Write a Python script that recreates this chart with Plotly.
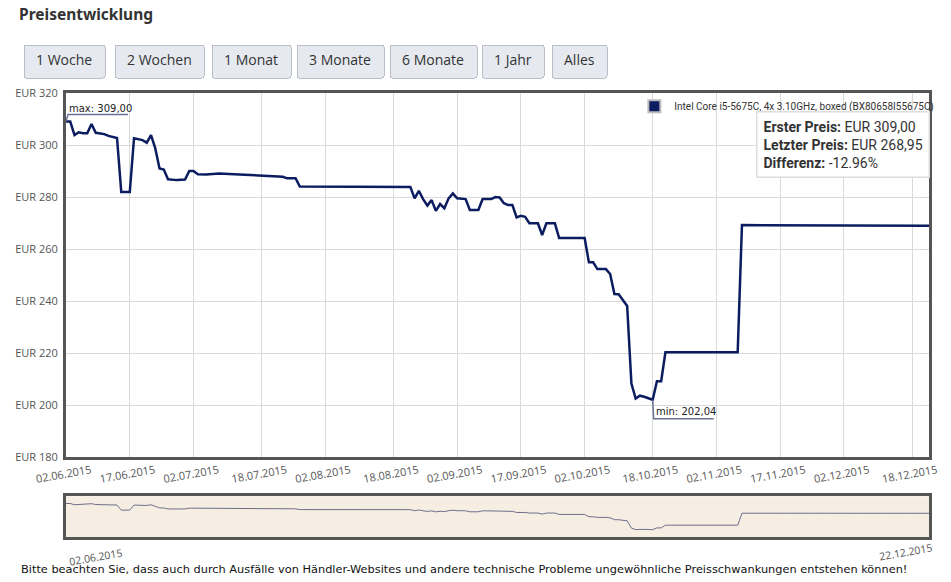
import pandas as pd
import plotly.graph_objects as go

# Preisverlauf
dates = [
    "2015-06-02", "2015-06-03", "2015-06-04", "2015-06-05", "2015-06-06", "2015-06-07",
    "2015-06-08", "2015-06-09", "2015-06-11", "2015-06-12", "2015-06-14", "2015-06-15",
    "2015-06-17", "2015-06-18", "2015-06-20", "2015-06-21", "2015-06-22", "2015-06-23",
    "2015-06-24", "2015-06-25", "2015-06-26", "2015-06-28", "2015-06-30", "2015-07-01",
    "2015-07-02", "2015-07-03", "2015-07-05", "2015-07-08", "2015-07-14", "2015-07-22",
    "2015-07-23", "2015-07-24", "2015-07-26", "2015-07-27", "2015-08-22", "2015-08-23",
    "2015-08-24", "2015-08-25", "2015-08-26", "2015-08-27", "2015-08-28", "2015-08-29",
    "2015-08-30", "2015-08-31", "2015-09-01", "2015-09-02", "2015-09-04", "2015-09-05",
    "2015-09-07", "2015-09-08", "2015-09-10", "2015-09-11", "2015-09-12", "2015-09-13",
    "2015-09-14", "2015-09-15", "2015-09-16", "2015-09-17", "2015-09-18", "2015-09-19",
    "2015-09-21", "2015-09-22", "2015-09-23", "2015-09-25", "2015-09-26", "2015-10-02",
    "2015-10-03", "2015-10-04", "2015-10-05", "2015-10-07", "2015-10-08", "2015-10-09",
    "2015-10-10", "2015-10-12", "2015-10-13", "2015-10-14", "2015-10-15", "2015-10-16",
    "2015-10-18", "2015-10-19", "2015-10-20", "2015-10-21", "2015-11-07", "2015-11-08",
    "2015-12-22",
]
prices = [
    309.00, 309.00, 303.8, 304.9, 304.5, 304.5,
    308.1, 304.7, 304.2, 303.5, 302.7, 281.9,
    281.9, 302.6, 301.9, 300.9, 303.8, 298.7,
    291.0, 290.6, 286.8, 286.5, 286.7, 290.0,
    290.0, 288.8, 288.7, 289.0, 288.6, 288.1,
    287.8, 287.2, 287.2, 284.0, 283.9, 279.5,
    282.4, 279.2, 276.7, 278.8, 274.7, 277.3,
    275.7, 279.5, 281.4, 279.5, 279.2, 275.0,
    275.0, 279.2, 279.2, 280.0, 279.8, 277.6,
    276.9, 276.9, 272.2, 272.8, 272.4, 269.9,
    269.9, 265.4, 269.9, 269.9, 264.2, 264.2,
    254.9, 254.9, 252.3, 252.3, 250.4, 242.7,
    242.6, 238.1, 208.3, 202.5, 203.6, 203.2,
    202.04, 209.2, 209.2, 220.3, 220.3, 269.2,
    268.95,
]

product = "Intel Core i5-5675C, 4x 3.10GHz, boxed (BX80658I55675C)"
x_ticks = ["2015-06-02", "2015-06-17", "2015-07-02", "2015-07-18", "2015-08-02",
           "2015-08-18", "2015-09-02", "2015-09-17", "2015-10-02", "2015-10-18",
           "2015-11-02", "2015-11-17", "2015-12-02", "2015-12-18"]
y_ticks = [180, 200, 220, 240, 260, 280, 300, 320]
zoom_labels = ["1 Woche", "2 Wochen", "1 Monat", "3 Monate", "6 Monate", "1 Jahr", "Alles"]
zoom_spans = [pd.DateOffset(days=7), pd.DateOffset(days=14), pd.DateOffset(months=1),
              pd.DateOffset(months=3), pd.DateOffset(months=6), pd.DateOffset(years=1), None]
button_left_px = [23, 114, 213, 298, 392, 485, 556]


def de_num(v):
    return f"{v:,.2f}".replace(",", "X").replace(".", ",").replace("X", ".")


def de_date(d):
    y, m, t = d.split("-")
    return f"{t}.{m}.{y}"


navy = "#0c1c60"
grid = "#d9d9d9"
axis_grey = "#555555"

first, last = prices[0], prices[-1]
diff = (last - first) / first * 100
i_max = prices.index(max(prices))
i_min = prices.index(min(prices))
rng = [dates[0], dates[-1]]

fig = go.Figure()
fig.add_trace(go.Scatter(x=dates, y=prices, mode="lines", line=dict(color=navy, width=2.5),
                         showlegend=False, xaxis="x", yaxis="y"))
# legend entry as a square
fig.add_trace(go.Scatter(x=[None], y=[None], mode="markers", name=product,
                         marker=dict(symbol="square", size=13, color=navy,
                                     line=dict(color="#bbbbbb", width=1)),
                         xaxis="x", yaxis="y"))
# navigator
fig.add_trace(go.Scatter(x=dates, y=prices, mode="lines", line=dict(color="#6e6e8c", width=1),
                         showlegend=False, xaxis="x2", yaxis="y2", hoverinfo="skip"))

# zoom buttons, one menu each so they can be spaced like the original
end = pd.Timestamp(dates[-1])
menus = []
for lab, span, px in zip(zoom_labels, zoom_spans, button_left_px):
    start = rng[0] if span is None else max(pd.Timestamp(dates[0]), end - span).strftime("%Y-%m-%d")
    menus.append(dict(
        type="buttons", showactive=False, direction="right",
        x=(px - 66) / 872, xanchor="left", y=1.036, yanchor="bottom", pad=dict(t=0, b=0, l=0, r=0),
        bgcolor="#e6eaf0", bordercolor="#b9bec7", borderwidth=1,
        font=dict(family="Open Sans, sans-serif", size=14, color="#333333"),
        buttons=[dict(label=lab, method="relayout",
                      args=[{"xaxis.range": [start, dates[-1]]}])],
    ))

fig.update_layout(
    width=951, height=582,
    margin=dict(l=66, r=13, t=93, b=45),
    paper_bgcolor="white", plot_bgcolor="white",
    font=dict(family="Noto Sans, Open Sans, sans-serif", size=11, color="#333333"),
    updatemenus=menus,
    xaxis=dict(
        domain=[0, 1], anchor="y", type="date", range=rng,
        tickvals=x_ticks, ticktext=[de_date(d) for d in x_ticks],
        tickangle=-10, ticklabelshift=25, ticklabelstandoff=0,
        tickfont=dict(family="Open Sans, sans-serif", size=11, color=axis_grey),
        showgrid=True, gridcolor=grid, gridwidth=1,
        showline=True, linecolor=axis_grey, linewidth=3, mirror=True, ticks="",
    ),
    yaxis=dict(
        domain=[0.18, 1], anchor="x", range=[180, 320],
        tickvals=y_ticks, ticktext=[f"EUR {v}" for v in y_ticks],
        tickfont=dict(family="Open Sans, sans-serif", size=11, color=axis_grey),
        showgrid=True, gridcolor=grid, gridwidth=1, zeroline=False,
        showline=True, linecolor=axis_grey, linewidth=3, mirror=True, ticks="",
        ticklabelstandoff=3, fixedrange=True,
    ),
    xaxis2=dict(
        domain=[0, 1], anchor="y2", type="date", range=rng, showticklabels=False,
        showgrid=False, showline=True, linecolor=axis_grey, linewidth=3, mirror=True,
        ticks="", fixedrange=True,
    ),
    yaxis2=dict(
        domain=[0, 0.092], anchor="x2", range=[172, 339], showticklabels=False,
        showgrid=False, zeroline=False, showline=True, linecolor=axis_grey, linewidth=3,
        mirror=True, ticks="", fixedrange=True,
    ),
    legend=dict(x=1.012, xanchor="right", y=1.003, yanchor="top", bgcolor="rgba(0,0,0,0)",
                font=dict(family="Roboto, sans-serif", size=10, color="#333333"),
                itemsizing="constant"),
    shapes=[
        dict(type="rect", xref="x2 domain", yref="y2 domain", x0=0, x1=1, y0=0, y1=1,
             fillcolor="#f6eee3", line=dict(width=0), layer="below"),
        # max / min label underline
        dict(type="path", xref="x", yref="y", xsizemode="pixel", ysizemode="pixel",
             xanchor=dates[i_max], yanchor=prices[i_max],
             path="M0,0 L2,7 L62,7", line=dict(color="#6a7396", width=1.5)),
        dict(type="path", xref="x", yref="y", xsizemode="pixel", ysizemode="pixel",
             xanchor=dates[i_min], yanchor=prices[i_min],
             path="M0,0 L1,-19 L61,-19", line=dict(color="#6a7396", width=1.5)),
    ],
    annotations=[
        dict(text="<b>Preisentwicklung</b>", xref="paper", yref="paper",
             x=-0.0573, xanchor="left", y=1.179, yanchor="middle", showarrow=False,
             font=dict(family="Noto Sans, sans-serif", size=15.5, color="#333333")),
        dict(text=f"max: {de_num(prices[i_max])}", x=dates[i_max], y=prices[i_max],
             xref="x", yref="y", xanchor="left", yanchor="bottom", xshift=1, yshift=6,
             showarrow=False, font=dict(family="DejaVu Sans, sans-serif", size=10,
                                        color="#222222")),
        dict(text=f"min: {de_num(prices[i_min])}", x=dates[i_min], y=prices[i_min],
             xref="x", yref="y", xanchor="left", yanchor="bottom", xshift=1, yshift=-19,
             showarrow=False, font=dict(family="DejaVu Sans, sans-serif", size=10,
                                        color="#222222")),
        dict(text=(f"<b>Erster Preis:</b> EUR {de_num(first)}<br>"
                   f"<b>Letzter Preis:</b> EUR {de_num(last)}<br>"
                   f"<b>Differenz:</b> {diff:.2f}%"),
             xref="x domain", yref="y domain", x=0.799, xanchor="left", y=0.95,
             yanchor="top", align="left", showarrow=False,
             bgcolor="white", bordercolor="#dddddd", borderwidth=1.5, borderpad=6,
             font=dict(family="Roboto, sans-serif", size=14, color="#333333")),
        dict(text=de_date(dates[0]), x=dates[0], y=0, xref="x2", yref="y2 domain",
             xanchor="left", yanchor="top", yshift=-6, textangle=-10, showarrow=False,
             font=dict(family="Open Sans, sans-serif", size=10.5, color=axis_grey)),
        dict(text=de_date(dates[-1]), x=dates[-1], y=0, xref="x2", yref="y2 domain",
             xanchor="right", yanchor="top", yshift=-1, xshift=7, textangle=-10,
             showarrow=False,
             font=dict(family="Open Sans, sans-serif", size=10.5, color=axis_grey)),
        dict(text=("Bitte beachten Sie, dass auch durch Ausfälle von Händler-Websites und "
                   "andere technische Probleme ungewöhnliche Preisschwankungen entstehen können!"),
             xref="paper", yref="paper", x=-0.055, xanchor="left", y=-0.072,
             yanchor="middle", showarrow=False,
             font=dict(family="DejaVu Sans, sans-serif", size=11.35, color="#111111")),
    ],
)

fig.write_html("out.html", config={"displayModeBar": False},
               post_script="document.body.style.margin='0px';")
